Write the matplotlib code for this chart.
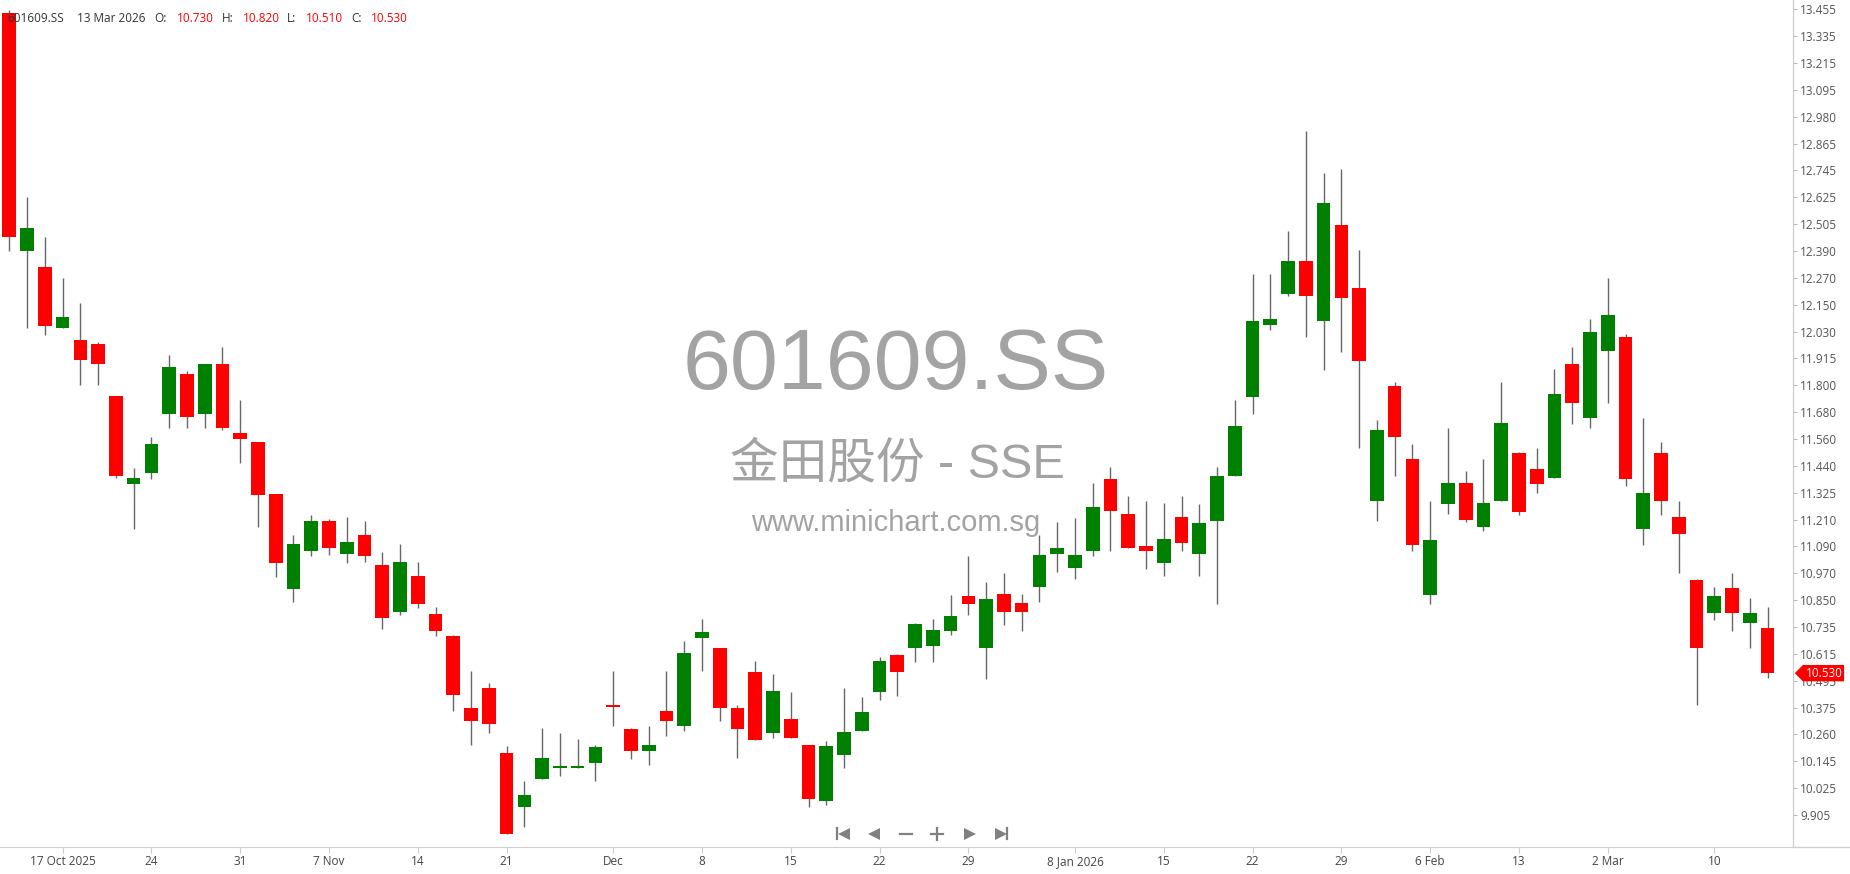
import numpy as np
import matplotlib
matplotlib.use("Agg")
import matplotlib.pyplot as plt
from matplotlib.patches import Polygon

plt.rcParams["font.family"] = ["Open Sans", "DejaVu Sans"]

# daily OHLC, 14 Oct 2025 .. 13 Mar 2026 (trading days only)
opens = [13.44, 12.39, 12.32, 12.05, 12.00, 11.98, 11.75, 11.365, 11.41, 11.67,
         11.85, 11.67, 11.89, 11.59, 11.55, 11.32, 10.90, 11.07, 11.20, 11.055,
         11.14, 11.005, 10.80, 10.96, 10.79, 10.695, 10.375, 10.465, 10.18, 9.94,
         10.065, 10.11, 10.11, 10.135, 10.385, 10.285, 10.185, 10.365, 10.295, 10.685,
         10.64, 10.375, 10.535, 10.265, 10.33, 10.215, 9.965, 10.17, 10.275, 10.445,
         10.61, 10.64, 10.65, 10.715, 10.87, 10.64, 10.88, 10.84, 10.91, 11.055,
         10.995, 11.07, 11.385, 11.23, 11.09, 11.015, 11.22, 11.055, 11.20, 11.40,
         11.745, 12.065, 12.20, 12.345, 12.08, 12.505, 12.225, 11.29, 11.795, 11.475,
         10.875, 11.275, 11.37, 11.175, 11.29, 11.50, 11.43, 11.39, 11.89, 11.655,
         11.95, 12.01, 11.165, 11.50, 11.22, 10.94, 10.795, 10.905, 10.75, 10.73]
highs = [13.45, 12.63, 12.45, 12.27, 12.16, 11.99, 11.75, 11.435, 11.57, 11.93,
         11.86, 11.89, 11.965, 11.735, 11.55, 11.32, 11.14, 11.225, 11.21, 11.22,
         11.20, 11.065, 11.10, 11.02, 10.82, 10.70, 10.54, 10.485, 10.21, 10.055,
         10.29, 10.265, 10.24, 10.215, 10.54, 10.29, 10.295, 10.54, 10.67, 10.77,
         10.64, 10.39, 10.585, 10.525, 10.445, 10.215, 10.23, 10.465, 10.425, 10.60,
         10.615, 10.75, 10.77, 10.875, 11.045, 10.93, 10.97, 10.88, 11.14, 11.195,
         11.215, 11.37, 11.44, 11.31, 11.29, 11.28, 11.31, 11.275, 11.44, 11.735,
         12.29, 12.29, 12.48, 12.92, 12.735, 12.75, 12.395, 11.645, 11.815, 11.54,
         11.29, 11.61, 11.42, 11.475, 11.815, 11.505, 11.52, 11.87, 11.965, 12.09,
         12.27, 12.025, 11.655, 11.55, 11.29, 10.945, 10.91, 10.97, 10.86, 10.82]
lows = [12.39, 12.05, 12.02, 12.05, 11.80, 11.80, 11.39, 11.165, 11.385, 11.61,
        11.61, 11.61, 11.60, 11.455, 11.175, 10.955, 10.845, 11.045, 11.05, 11.015,
        11.02, 10.725, 10.785, 10.815, 10.695, 10.365, 10.215, 10.265, 9.82, 9.85,
        10.065, 10.075, 10.11, 10.055, 10.295, 10.15, 10.125, 10.255, 10.275, 10.54,
        10.32, 10.155, 10.235, 10.245, 10.245, 9.94, 9.95, 10.11, 10.275, 10.41,
        10.43, 10.58, 10.58, 10.70, 10.785, 10.505, 10.74, 10.715, 10.845, 10.975,
        10.945, 11.045, 11.07, 11.08, 10.99, 10.96, 11.07, 10.96, 10.835, 11.40,
        11.67, 12.04, 12.19, 12.01, 11.865, 11.945, 11.52, 11.20, 11.40, 11.07,
        10.835, 11.23, 11.195, 11.155, 11.29, 11.225, 11.325, 11.39, 11.63, 11.61,
        11.72, 11.355, 11.095, 11.225, 10.97, 10.39, 10.765, 10.715, 10.64, 10.51]
closes = [12.45, 12.49, 12.06, 12.10, 11.91, 11.89, 11.40, 11.39, 11.54, 11.88,
          11.66, 11.89, 11.61, 11.56, 11.315, 11.015, 11.10, 11.20, 11.08, 11.11,
          11.045, 10.775, 11.02, 10.835, 10.715, 10.435, 10.32, 10.305, 9.82, 9.995,
          10.155, 10.11, 10.11, 10.205, 10.38, 10.185, 10.215, 10.32, 10.62, 10.71,
          10.375, 10.285, 10.235, 10.45, 10.245, 9.975, 10.21, 10.27, 10.36, 10.585,
          10.535, 10.745, 10.72, 10.78, 10.835, 10.855, 10.80, 10.80, 11.05, 11.08,
          11.05, 11.26, 11.245, 11.08, 11.07, 11.12, 11.105, 11.19, 11.40, 11.62,
          12.08, 12.09, 12.345, 12.19, 12.60, 12.185, 11.905, 11.60, 11.57, 11.095,
          11.115, 11.37, 11.205, 11.28, 11.63, 11.24, 11.365, 11.76, 11.72, 12.035,
          12.11, 11.385, 11.325, 11.29, 11.145, 10.64, 10.87, 10.795, 10.795, 10.53]
# doji days that printed green
doji_up = {31, 32}

tick_idx = [3, 8, 13, 18, 23, 28, 34, 39, 44, 49, 54, 60, 65, 70, 75, 80, 85, 90, 96]
tick_labels = ["17 Oct 2025", "24", "31", "7 Nov", "14", "21", "Dec", "8", "15", "22",
               "29", "8 Jan 2026", "15", "22", "29", "6 Feb", "13", "2 Mar", "10"]
price_labels = ["13.455", "13.335", "13.215", "13.095", "12.980", "12.865", "12.745",
                "12.625", "12.505", "12.390", "12.270", "12.150", "12.030", "11.915",
                "11.800", "11.680", "11.560", "11.440", "11.325", "11.210", "11.090",
                "10.970", "10.850", "10.735", "10.615", "10.495", "10.375", "10.260",
                "10.145", "10.025", "9.905"]

W, H, DPI = 1850, 874, 100
RED, GREEN, WICK = "#ff0000", "#008000", "#666666"

o = np.array(opens); hi = np.array(highs); lo = np.array(lows); c = np.array(closes)
x = np.arange(len(o))
up = (c > o) | np.isin(x, list(doji_up))
colors = np.where(up, GREEN, RED)
body_lo = np.minimum(o, c)
body_h = np.maximum(np.abs(c - o), 0.009)

fig = plt.figure(figsize=(W / DPI, H / DPI), dpi=DPI)
plot_bottom, plot_right = 847, 1793
ax = fig.add_axes([0, (H - plot_bottom) / H, plot_right / W, plot_bottom / H])
ov = fig.add_axes([0, 0, 1, 1], zorder=10)
ov.set_xlim(0, W); ov.set_ylim(H, 0); ov.axis("off")

ax.vlines(x, lo, hi, color=WICK, lw=1.0, zorder=2)
ax.bar(x, body_h, bottom=body_lo, width=0.77, color=colors, linewidth=0, zorder=3)

ax.set_xlim(-0.524, 100.43)
ax.set_ylim(9.764, 13.496)

ax.yaxis.tick_right()
ax.set_yticks(np.linspace(13.455, 9.905, len(price_labels)), price_labels)
ax.tick_params(axis="y", length=3, color="#bbbbbb", pad=2, labelsize=8.5, labelcolor="#555555")
ax.set_xticks(tick_idx, tick_labels)
ax.tick_params(axis="x", length=4, color="#cccccc", pad=1.5, labelsize=8.5, labelcolor="#444444")
for s in ("top", "left"):
    ax.spines[s].set_visible(False)
ax.spines["right"].set_color("#c8c8c8")
ax.spines["bottom"].set_color("#d0d0d0")
ov.plot([plot_right, W], [plot_bottom, plot_bottom], color="#d0d0d0", lw=1)

# watermark (behind candles)
wm = "#a3a3a3"
ax.text(896, 367, "601609.SS", transform=ov.transData, ha="center", va="center",
        fontsize=62, color=wm, family=["Liberation Sans"], zorder=1)
ax.text(897, 465, "金田股份 - SSE", transform=ov.transData, ha="center", va="center",
        fontsize=35, color=wm, family=["Liberation Sans", "Noto Sans CJK SC"], zorder=1)
ax.text(896, 523, "www.minichart.com.sg", transform=ov.transData, ha="center", va="center",
        fontsize=21, color=wm, family=["Liberation Sans"], zorder=1)

# header line
hdr = [("601609.SS", 7, "#333333"), ("13 Mar 2026", 77, "#333333"),
       ("O:", 154, "#333333"), (f"{opens[-1]:.3f}", 177, RED),
       ("H:", 222, "#333333"), (f"{highs[-1]:.3f}", 243, RED),
       ("L:", 287, "#333333"), (f"{lows[-1]:.3f}", 306, RED),
       ("C:", 351, "#333333"), (f"{closes[-1]:.3f}", 371, RED)]
for s, px, col in hdr:
    ov.text(px, 18, s, ha="left", va="center", fontsize=8.5, color=col)

# last price tag
cl = closes[-1]
hh = 0.036
tag = Polygon([(1.001, cl), (1.0055, cl + hh), (1.0285, cl + hh), (1.0285, cl - hh), (1.0055, cl - hh)],
              closed=True, facecolor=RED, edgecolor="none", transform=ax.get_yaxis_transform(),
              clip_on=False, zorder=5)
ax.add_patch(tag)
ax.text(1.007, cl, f"{cl:.3f}", transform=ax.get_yaxis_transform(), ha="left", va="center",
        fontsize=8.5, color="white", zorder=6, clip_on=False)

# navigation buttons
nav = "#808080"
yb = 833.5
ov.plot([837, 837], [828, 839], color=nav, lw=1.6)
ov.plot([843.5], [yb], marker="<", ms=8, color=nav, mew=0)
ov.plot([874], [yb], marker="<", ms=8, color=nav, mew=0)
ov.plot([899.5, 911.5], [yb, yb], color=nav, lw=1.6)
ov.plot([931, 943], [yb, yb], color=nav, lw=1.6)
ov.plot([937, 937], [827.5, 839.5], color=nav, lw=1.6)
ov.plot([969.5], [yb], marker=">", ms=8, color=nav, mew=0)
ov.plot([1001], [yb], marker=">", ms=8, color=nav, mew=0)
ov.plot([1007, 1007], [828, 839], color=nav, lw=1.6)

fig.savefig("out.png", dpi=DPI, facecolor="white")
